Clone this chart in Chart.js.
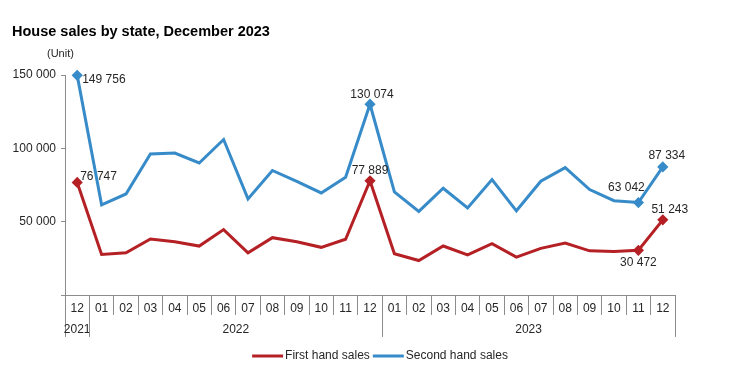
<!DOCTYPE html>
<html>
<head>
<meta charset="utf-8">
<script src="https://cdn.jsdelivr.net/npm/chart.js@4/dist/chart.umd.min.js"></script>
<style>
  html, body { margin: 0; padding: 0; background: #fff; }
  #wrap { width: 738px; height: 382px; position: relative; }
</style>
</head>
<body>
<div id="wrap"><canvas id="c" width="738" height="382"></canvas></div>
<script>
// ---- Data ----
const months = ['12','01','02','03','04','05','06','07','08','09','10','11','12',
                '01','02','03','04','05','06','07','08','09','10','11','12'];
const years = ['2021', '2022', '2023'];
const yearSpans = [[0, 0], [1, 12], [13, 24]]; // first and last category index of each year
const firstHand = [76747, 27650, 28750, 38200, 36300, 33350, 44600, 28750, 39100, 36300, 32500, 38000, 77889,
                   28100, 23500, 33400, 27400, 34950, 25800, 31800, 35400, 30100, 29700, 30472, 51243];
const secondHand = [149756, 61500, 68900, 96100, 96800, 90000, 106000, 65500, 84900, 77400, 69600, 80300, 130074,
                    70300, 57000, 72800, 59300, 78700, 57400, 77600, 86800, 71900, 64300, 63042, 87334];
const yTicks = [0, 50000, 100000, 150000];
const labelledPoints = [0, 12, 23, 24];
const seriesNames = ['First hand sales', 'Second hand sales'];

// ---- Styling ----
const FONT = '"Liberation Sans", Arial, Helvetica, sans-serif';
const RED = '#B52025';
const BLUE = '#368BC8';
const AXIS = '#8c8c8c';
const TEXT = '#262626';
// label placement per series per labelled point: [dx, dy, align]
const labelPlace = [
  { 0: [3, -6, 'left'], 12: [0, -10, 'center'], 23: [0, 12, 'center'], 24: [7, -10, 'center'] },
  { 0: [5, 4, 'left'], 12: [2, -10, 'center'], 23: [-12, -15, 'center'], 24: [4, -11, 'center'] }
];

function fmt(v) {
  return String(v).replace(/\B(?=(\d{3})+(?!\d))/g, ' ');
}

const decor = {
  id: 'decor',
  afterDraw(chart) {
    const ctx = chart.ctx;
    const x = chart.scales.x;
    const area = chart.chartArea;
    ctx.save();
    // Title
    ctx.fillStyle = '#000';
    ctx.font = 'bold 14.5px ' + FONT;
    ctx.textAlign = 'left';
    ctx.textBaseline = 'alphabetic';
    ctx.fillText('House sales by state, December 2023', 12, 36);
    // Unit
    ctx.fillStyle = TEXT;
    ctx.font = '11px ' + FONT;
    ctx.fillText('(Unit)', 47, 57);

    // Year separators and labels
    const half = (x.getPixelForValue(1) - x.getPixelForValue(0)) / 2;
    ctx.strokeStyle = AXIS;
    ctx.lineWidth = 1;
    ctx.font = '12px ' + FONT;
    ctx.textAlign = 'center';
    ctx.textBaseline = 'middle';
    yearSpans.forEach((s, i) => {
      const x0 = x.getPixelForValue(s[0]) - half;
      const x1 = x.getPixelForValue(s[1]) + half;
      [x0, x1].forEach(px => {
        const p = Math.round(px) + 0.5;
        ctx.beginPath();
        ctx.moveTo(p, area.bottom);
        ctx.lineTo(p, area.bottom + 42);
        ctx.stroke();
      });
      ctx.fillStyle = TEXT;
      ctx.fillText(years[i], (x0 + x1) / 2, area.bottom + 35);
    });

    // Data labels
    ctx.font = '12px ' + FONT;
    ctx.fillStyle = TEXT;
    chart.data.datasets.forEach((ds, di) => {
      const meta = chart.getDatasetMeta(di);
      labelledPoints.forEach(idx => {
        const el = meta.data[idx];
        const pl = labelPlace[di][idx];
        ctx.textAlign = pl[2];
        ctx.fillText(fmt(ds.data[idx]), el.x + pl[0], el.y + pl[1]);
      });
    });

    // Legend
    ctx.font = '12px ' + FONT;
    ctx.textAlign = 'left';
    const lineW = 31, gap1 = 2, gap2 = 3;
    const items = chart.data.datasets.map(d => ({ label: d.label, color: d.borderColor, w: ctx.measureText(d.label).width }));
    let total = 0;
    items.forEach((it, i) => { total += lineW + gap1 + it.w + (i < items.length - 1 ? gap2 : 0); });
    let lx = 380 - total / 2;
    const ly = 356;
    items.forEach(it => {
      ctx.strokeStyle = it.color;
      ctx.lineWidth = 3;
      ctx.beginPath();
      ctx.moveTo(lx, ly);
      ctx.lineTo(lx + lineW, ly);
      ctx.stroke();
      lx += lineW + gap1;
      ctx.fillStyle = TEXT;
      ctx.fillText(it.label, lx, ly);
      lx += it.w + gap2;
    });
    ctx.restore();
  }
};

const pointR = ctx => labelledPoints.includes(ctx.dataIndex) ? 3.5 : 0;

new Chart(document.getElementById('c'), {
  type: 'line',
  data: {
    labels: months,
    datasets: [
      { label: seriesNames[0], data: firstHand, borderColor: RED, backgroundColor: RED, borderWidth: 3,
        pointStyle: 'rectRot', pointRadius: pointR, pointHoverRadius: pointR, tension: 0, clip: false },
      { label: seriesNames[1], data: secondHand, borderColor: BLUE, backgroundColor: BLUE, borderWidth: 3,
        pointStyle: 'rectRot', pointRadius: pointR, pointHoverRadius: pointR, tension: 0, clip: false }
    ]
  },
  options: {
    responsive: false,
    animation: false,
    devicePixelRatio: 1,
    layout: { padding: { top: 75, right: 63, bottom: 0, left: 0 } },
    plugins: { legend: { display: false }, title: { display: false }, tooltip: { enabled: false } },
    scales: {
      x: {
        type: 'category',
        offset: true,
        grid: { display: true, drawOnChartArea: false, drawTicks: true, tickLength: 20, color: AXIS, offset: true },
        border: { display: true, color: AXIS, width: 1 },
        ticks: { color: TEXT, font: { family: FONT, size: 12 }, autoSkip: false, maxRotation: 0, padding: -14 },
        afterFit(s) { s.height = 87; }
      },
      y: {
        min: 0, max: 150000,
        afterBuildTicks(s) { s.ticks = yTicks.map(v => ({ value: v })); },
        grid: { display: true, drawOnChartArea: false, drawTicks: true, tickLength: 4, color: AXIS },
        border: { display: true, color: AXIS, width: 1 },
        ticks: { color: TEXT, font: { family: FONT, size: 12 }, padding: 5,
                 callback: v => v === 0 ? '' : fmt(v) },
        afterFit(s) { s.width = 65; }
      }
    }
  },
  plugins: [decor]
});
</script>
</body>
</html>
